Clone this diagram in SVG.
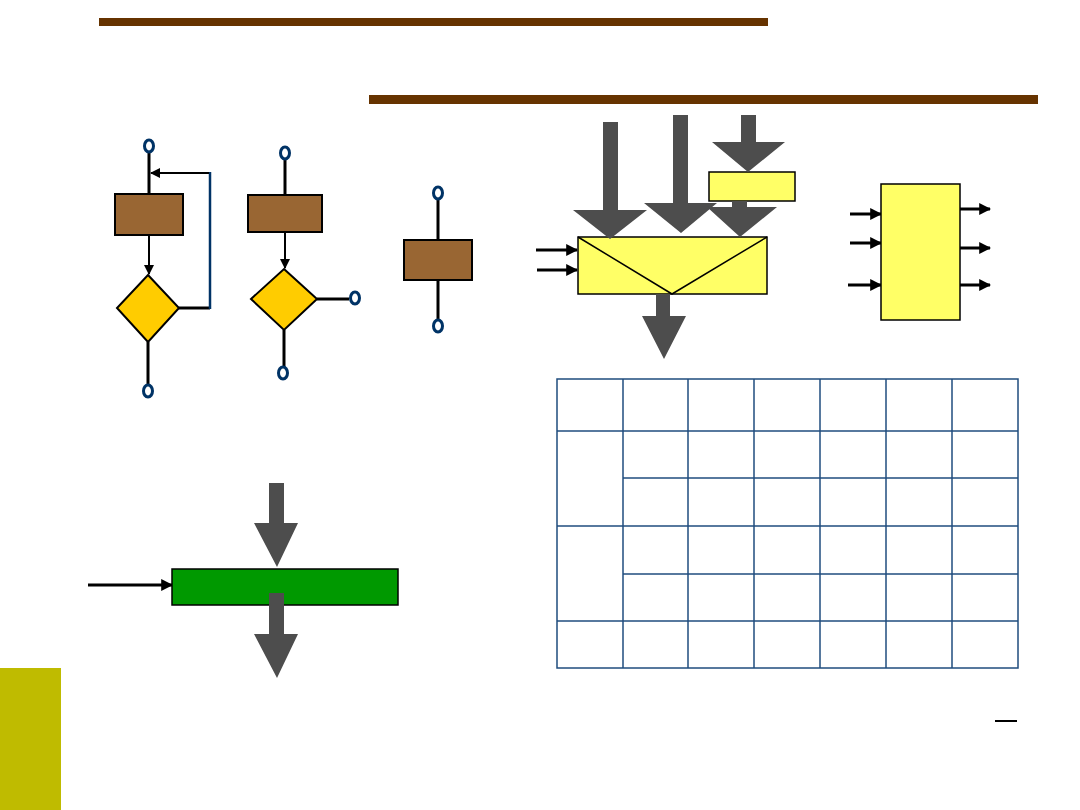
<svg xmlns="http://www.w3.org/2000/svg" width="1080" height="810" viewBox="0 0 1080 810">
<style>
.bar{fill:#663300}
.proc{fill:#996633;stroke:#000;stroke-width:2}
.dec{fill:#FFCC00;stroke:#000;stroke-width:2}
.yel{fill:#FFFF66;stroke:#000;stroke-width:1.5}
.term{fill:none;stroke:#003366;stroke-width:3}
.ln{fill:none;stroke:#000;stroke-width:3}
.ln2{fill:none;stroke:#000;stroke-width:2}
.big{fill:#4D4D4D}
.grid{fill:none;stroke:#1F4C7E;stroke-width:1.5}
</style>
<defs>
<marker id="ah" viewBox="0 0 10 10" refX="9" refY="5" markerWidth="4" markerHeight="4" orient="auto" markerUnits="strokeWidth">
<path d="M0,0 L10,5 L0,10 z" fill="#000"/>
</marker>
<marker id="ahs" viewBox="0 0 10 10" refX="9" refY="5" markerWidth="5" markerHeight="5" orient="auto" markerUnits="strokeWidth">
<path d="M0,0 L10,5 L0,10 z" fill="#000"/>
</marker>
</defs>
<rect width="1080" height="810" fill="#fff"/>
<g id="decor">
<rect class="bar" x="99" y="18" width="669" height="8"/>
<rect class="bar" x="369" y="95" width="669" height="9"/>
<rect x="0" y="668" width="61" height="142" fill="#BFBB00"/>
<line x1="995" y1="721" x2="1017" y2="721" stroke="#000" stroke-width="2"/>
</g>
<g id="connectors">
<line class="ln" x1="149" y1="152" x2="149" y2="194"/>
<line class="ln2" x1="149" y1="235" x2="149" y2="274" marker-end="url(#ahs)"/>
<polyline class="ln" points="179,308 210,308"/>
<line x1="210" y1="309" x2="210" y2="172" stroke="#003366" stroke-width="2.5"/>
<line class="ln2" x1="209" y1="173" x2="151" y2="173" marker-end="url(#ahs)"/>
<line class="ln" x1="148" y1="342" x2="148" y2="385"/>
<line class="ln" x1="285" y1="159" x2="285" y2="196"/>
<line class="ln2" x1="285" y1="232" x2="285" y2="268" marker-end="url(#ahs)"/>
<line class="ln" x1="317" y1="299" x2="349" y2="299"/>
<line class="ln" x1="284" y1="330" x2="284" y2="367"/>
<line class="ln" x1="438" y1="199" x2="438" y2="240"/>
<line class="ln" x1="438" y1="280" x2="438" y2="320"/>
<line class="ln" x1="536" y1="250" x2="577" y2="250" marker-end="url(#ah)"/>
<line class="ln" x1="537" y1="270" x2="577" y2="270" marker-end="url(#ah)"/>
<line class="ln" x1="850" y1="214" x2="881" y2="214" marker-end="url(#ah)"/>
<line class="ln" x1="850" y1="243" x2="881" y2="243" marker-end="url(#ah)"/>
<line class="ln" x1="848" y1="285" x2="881" y2="285" marker-end="url(#ah)"/>
<line class="ln" x1="960" y1="209" x2="990" y2="209" marker-end="url(#ah)"/>
<line class="ln" x1="960" y1="248" x2="990" y2="248" marker-end="url(#ah)"/>
<line class="ln" x1="960" y1="285" x2="990" y2="285" marker-end="url(#ah)"/>
<line class="ln" x1="88" y1="585" x2="172" y2="585" marker-end="url(#ah)"/>
</g>
<g id="node-fc1">
<ellipse class="term" cx="149" cy="146" rx="4.5" ry="6"/>
<rect class="proc" x="115" y="194" width="68" height="41"/>
<polygon class="dec" points="148,275 179,308 148,342 117,308"/>
<ellipse class="term" cx="148" cy="391" rx="4.5" ry="6"/>
</g>
<g id="node-fc2">
<ellipse class="term" cx="285" cy="153" rx="4.5" ry="6"/>
<rect class="proc" x="248" y="195" width="74" height="37"/>
<polygon class="dec" points="284,269 317,299 284,330 251,299"/>
<ellipse class="term" cx="355" cy="298" rx="4.5" ry="6"/>
<ellipse class="term" cx="283" cy="373" rx="4.5" ry="6"/>
</g>
<g id="node-mid">
<ellipse class="term" cx="438" cy="193" rx="4.5" ry="6"/>
<rect class="proc" x="404" y="240" width="68" height="40"/>
<ellipse class="term" cx="438" cy="326" rx="4.5" ry="6"/>
</g>
<g id="node-block">
<rect class="yel" x="578" y="237" width="189" height="57"/>
<polyline points="578,237 672,294 767,237" fill="none" stroke="#000" stroke-width="1.5"/>
<rect class="yel" x="709" y="172" width="86" height="29"/>
<polygon class="big" points="603,122 618,122 618,210 647,210 610,239 573,210 603,210"/>
<polygon class="big" points="673,115 688,115 688,203 717,203 681,233 644,203 673,203"/>
<polygon class="big" points="741,115 756,115 756,142 785,142 748,172 712,142 741,142"/>
<polygon class="big" points="732,201 747,201 747,207 777,207 740,237 707,207 732,207"/>
<polygon class="big" points="656,294 670,294 670,316 686,316 664,359 642,316 656,316"/>
</g>
<g id="node-rightbox">
<rect class="yel" x="881" y="184" width="79" height="136"/>
</g>
<g id="node-green">
<rect x="172" y="569" width="226" height="36" fill="#009900" stroke="#000" stroke-width="1.5"/>
<polygon class="big" points="269,483 284,483 284,523 298,523 277,567 254,523 269,523"/>
<polygon class="big" points="269,593 284,593 284,634 298,634 277,678 254,634 269,634"/>
</g>
<g id="node-table">
<rect class="grid" x="557" y="379" width="461" height="289"/>
<line class="grid" x1="623" y1="379" x2="623" y2="668"/>
<line class="grid" x1="688" y1="379" x2="688" y2="668"/>
<line class="grid" x1="754" y1="379" x2="754" y2="668"/>
<line class="grid" x1="820" y1="379" x2="820" y2="668"/>
<line class="grid" x1="886" y1="379" x2="886" y2="668"/>
<line class="grid" x1="952" y1="379" x2="952" y2="668"/>
<line class="grid" x1="557" y1="431" x2="1018" y2="431"/>
<line class="grid" x1="623" y1="478" x2="1018" y2="478"/>
<line class="grid" x1="557" y1="526" x2="1018" y2="526"/>
<line class="grid" x1="623" y1="574" x2="1018" y2="574"/>
<line class="grid" x1="557" y1="621" x2="1018" y2="621"/>
</g>
</svg>
